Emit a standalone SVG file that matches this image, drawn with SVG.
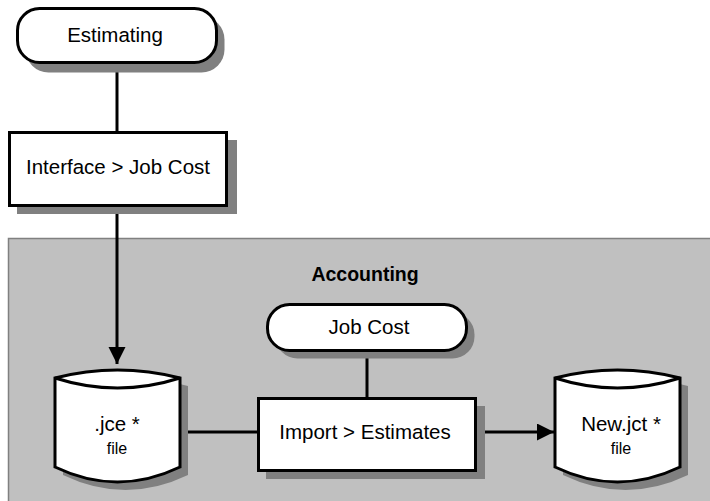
<svg xmlns="http://www.w3.org/2000/svg" width="710" height="501" viewBox="0 0 710 501">
<style>
.shape{fill:#ffffff;stroke:#000000;stroke-width:3}
.shadow{fill:#808080;stroke:none}
.conn{stroke:#000000;stroke-width:3;fill:none}
.lbl{font-family:"Liberation Sans",Arial,sans-serif;font-size:20.5px;fill:#000000;text-anchor:middle}
.sub{font-family:"Liberation Sans",Arial,sans-serif;font-size:16px;fill:#000000;text-anchor:middle}
.title{font-family:"Liberation Sans",Arial,sans-serif;font-size:19.5px;font-weight:bold;fill:#000000;text-anchor:middle}
</style>
<defs>
<marker id="arrow" markerUnits="userSpaceOnUse" markerWidth="18" markerHeight="18" refX="17" refY="8.5" orient="auto">
<path d="M0,0 L17,8.5 L0,17 Z" fill="#000000"/>
</marker>
<path id="cyl" d="M0,0 Q62.5,-16 125,0 L125,89 Q62.5,119 0,89 Z"/>
</defs>
<rect width="710" height="501" fill="#ffffff"/>
<g id="accounting">
<rect x="8.5" y="238.5" width="720" height="300" fill="#c0c0c0" stroke="#808080" stroke-width="1.5"/>
<text class="title" x="365" y="281">Accounting</text>
</g>
<g id="connectors">
<line class="conn" x1="117" y1="64" x2="117" y2="131"/>
<line class="conn" x1="117" y1="206" x2="117" y2="364" marker-end="url(#arrow)"/>
<line class="conn" x1="367" y1="352" x2="367" y2="397"/>
<line class="conn" x1="179" y1="432" x2="257" y2="432"/>
<line class="conn" x1="477" y1="432" x2="554" y2="432" marker-end="url(#arrow)"/>
</g>
<g id="estimating">
<rect class="shadow" x="25.5" y="16.5" width="199" height="56" rx="23"/>
<rect class="shape" x="17.5" y="8.5" width="199" height="54" rx="22"/>
<text class="lbl" x="115" y="42">Estimating</text>
</g>
<g id="interface">
<rect class="shadow" x="17" y="140" width="220" height="74"/>
<rect class="shape" x="9.5" y="132.5" width="217" height="73"/>
<text class="lbl" x="118" y="174">Interface &gt; Job Cost</text>
</g>
<g id="jobcost">
<rect class="shadow" x="275.5" y="312.5" width="199" height="46" rx="22"/>
<rect class="shape" x="267.5" y="304.5" width="199" height="46" rx="22"/>
<text class="lbl" x="369" y="334">Job Cost</text>
</g>
<g id="import">
<rect class="shadow" x="266" y="406" width="219" height="73"/>
<rect class="shape" x="258.5" y="398.5" width="217" height="72"/>
<text class="lbl" x="365" y="439">Import &gt; Estimates</text>
</g>
<g id="jce">
<use href="#cyl" x="63" y="386" class="shadow"/>
<use href="#cyl" x="55" y="378" class="shape"/>
<path class="conn" d="M55,378 Q117.5,398 180,378"/>
<text class="lbl" x="117" y="431">.jce *</text>
<text class="sub" x="117" y="454">file</text>
</g>
<g id="newjct">
<use href="#cyl" x="563" y="386" class="shadow"/>
<use href="#cyl" x="555" y="378" class="shape"/>
<path class="conn" d="M555,378 Q617.5,398 680,378"/>
<text class="lbl" x="621" y="431">New.jct *</text>
<text class="sub" x="621" y="454">file</text>
</g>
</svg>
